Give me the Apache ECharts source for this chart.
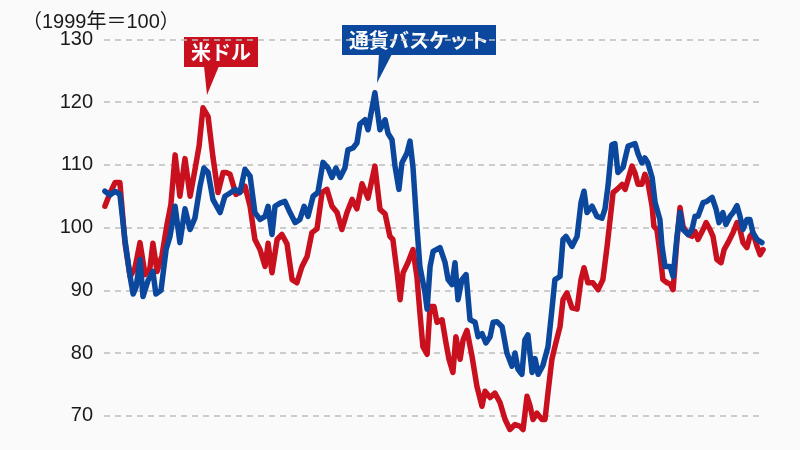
<!DOCTYPE html>
<html>
<head>
<meta charset="utf-8">
<script src="https://cdn.jsdelivr.net/npm/echarts@6/dist/echarts.min.js"></script>
<style>
html,body{margin:0;padding:0;background:#fafafa;}
#chart{width:800px;height:450px;}
</style>
</head>
<body>
<div id="chart"></div>
<script>
// Months since start of 1999 (index 1999 = 100)
const yTicks = [70, 80, 90, 100, 110, 120, 130];
const unitLabel = '（1999年＝100）';
const usdName = '米ドル';
const basketName = '通貨バスケット';

const usdMonths = [0.3,2,3.7,5.3,7,8.7,10.3,12,13.7,15.3,16.3,17.7,19.3,21,22.3,23.7,25.3,27,28.7,30.3,31.7,33,34.7,36.3,38,39.7,40.7,42,44,45.7,47,48.7,50.3,52,53.7,54.7,56,57.7,59.3,61,62.7,64.3,66,67.7,69.3,71,72.7,74.3,76,77.7,79.3,81,82.7,84.3,86,88,90.3,92,93.7,95.3,96.3,97.7,98.7,99.7,101.3,103,104.3,105.3,106.3,107.7,108.7,110,111,112.7,114,115,116.3,117.3,118.7,119.7,121,122.7,124.3,126,127,128.7,130.3,132,133.7,135.3,137,138.7,139.7,141,142,143,144.3,146,147,148,149.3,150.3,152,153,154.3,156,157.7,159,160,161.3,163,164.7,166.3,167.7,168.7,169.7,171,172.7,173.7,174.7,176,177,178,179.3,180.3,181.3,182.7,183.3,184.3,185.3,186.3,187.7,188.7,189.7,191,192,193,194.7,196,197,198,199.7,200.7,202,203,204.3,205.7,206.7,208,209.7,211,212,213,214.3,215.3,216.3,217.7,218.7,219.7];
const usdValues = [103.4,105.5,107.2,107.2,97.5,92.2,93.5,97.6,92.5,93.5,97.5,93,95.5,100.5,103.7,111.6,105,111,105,109.2,113,119.1,117.7,111.3,105.6,108.8,108.8,108.5,105.3,105.8,106.6,103.4,98.1,96.5,93.8,97.5,92.8,98.1,98.9,97.4,91.7,91.2,93.8,95.4,99.2,99.8,105.6,106.1,103.4,102.4,99.7,102.4,104.5,103,107,104.7,109.8,102.9,102.2,98.6,98.1,92.8,88.5,92.8,94.4,96.5,92.2,86.4,81,79.8,87.4,87.4,84.9,85.3,81.6,79,76.9,82.6,79,82.1,83.6,79.4,74.7,71.5,73.9,72.9,73.6,72.1,69.4,67.8,68.6,68.3,67.8,73.1,71.6,69.4,70.4,69.4,69.4,73.7,79,81,84.2,88.5,89.6,87.2,87,91.7,93.6,91.2,91.2,90.1,91.7,97,101.3,105.6,106.1,106.9,106.1,107.7,109.8,108.7,106.9,106.9,108.5,107.2,103.4,100.2,99.7,96,91.7,91.2,91,90.1,98.1,103.2,100.2,98.9,98.6,99.4,98.1,99.7,100.8,99.7,98.6,94.9,94.4,96.5,97.6,99.2,100.8,99.7,97.6,96.8,98.6,99.2,97,95.7,96.5];

const basketMonths = [0.3,2,3.7,5.3,7,8.7,9.7,10.7,12,13,14.7,16.3,17.3,19,20.7,22,23.7,25.3,27,28.7,30.3,32,33.3,34.7,36.3,38.7,40.3,42.3,43.7,45.3,47,48.7,50.3,52,53.7,54.7,56,57,58.7,60.3,62,63.7,65.3,66.7,68,69.7,71.3,73,74.7,76,77.3,78.7,80.3,81.3,83,84.3,85.3,87,88,90.3,92,93.7,94.7,96,97,98.3,99.3,101,102,103,104.3,105.3,107,107.7,108.7,109.7,112,113.7,114.7,116,117,118,119.3,120.7,122,123.7,124.7,126,127.3,128.7,129.7,131,132.7,134.3,136,137,138,139.3,140.3,141.3,142.7,143.7,144.7,146.3,148,149.3,150.3,152,153,154,156,157.7,159,160,161,162.7,164.3,166,167,168,169.3,170.3,171.3,173,174.7,177,178,179.3,180.3,181.3,182.7,183.7,185.3,186,187,188.7,189.7,191,192,193,194.7,196,197,198,199.7,201,202.7,204,205,206.3,207.3,208.7,209.7,211,212,213,214.3,215.3,216.3,217.7,219.3];
const basketValues = [105.8,105.2,105.8,105.3,98,92.2,89.4,90.5,94.9,89,91.6,93,89.4,90,96.5,98.6,103.4,97.6,103,99.7,101.5,106.6,109.5,108.8,104.5,102.4,105,105.6,106.1,105.6,109.3,108.2,102.4,101.3,101.8,103.4,98.9,103.4,103.9,104.2,102.4,100.8,101.3,103.4,101.8,105,105.6,110.4,109.5,108,109.5,108,109.5,112.4,112.7,113.5,116.5,117.2,115.6,121.5,115.6,117.2,115,114,109.8,106.1,110.3,111.9,113.8,109.6,100.2,93.8,89.6,87,93.8,96.2,96.8,94.4,91.7,90.9,94.4,88.5,91.7,92.5,85.3,84.9,82.6,83.1,81.6,82.6,84.9,85,84.2,80,77.9,80,77.4,76.6,82.1,82.9,76.9,79.1,76.6,78,81,86.9,91.7,92.2,98.1,98.6,97,98.6,104,105.8,102.4,103.4,101.8,101.5,103,106.6,113.2,113.4,108.8,109.6,113,113.4,111.8,110.3,111.1,110.3,108,104,101.3,97,93.8,93.8,92.2,98.6,102.4,99.7,98.9,99.7,101.8,101.8,104,104.2,104.8,103,100.8,102.4,100.5,101.8,102.4,103.5,101.8,99.7,101.3,101.3,99.2,98.1,97.6];

const RED = '#c8101e';
const BLUE = '#0b479c';
const zip = (xs, ys) => xs.map((x, i) => [x, ys[i]]);

const chart = echarts.init(document.getElementById('chart'), null, {renderer: 'canvas'});
chart.setOption({
  animation: false,
  backgroundColor: '#fafafa',
  grid: {left: 104, right: 36, top: 39.5, bottom: 34.3},
  xAxis: {type: 'value', min: 0, max: 220, show: false},
  yAxis: {
    type: 'value', min: yTicks[0], max: yTicks[yTicks.length - 1], interval: 10,
    axisLine: {show: false}, axisTick: {show: false},
    axisLabel: {color: '#1a1a1a', fontSize: 20, margin: 11, padding: [5, 0, 0, 0], fontFamily: "'Liberation Sans', Arial, sans-serif"},
    splitLine: {lineStyle: {color: '#bdbdbd', width: 1.5, type: [6, 5]}}
  },
  graphic: [
    {type: 'text', x: 22, y: 22, style: {text: unitLabel, fontSize: 20, fill: '#1a1a1a', verticalAlign: 'middle', fontFamily: "'Liberation Sans', 'Noto Sans CJK JP', sans-serif"}},
    {type: 'group', z: 100, children: [
      {type: 'rect', shape: {x: 184, y: 37, width: 74, height: 30}, style: {fill: RED}},
      {type: 'polygon', shape: {points: [[204, 66], [219, 66], [207, 95]]}, style: {fill: RED}},
      {type: 'text', x: 221, y: 52, style: {text: usdName, fill: '#fff', fontSize: 20, fontWeight: 'bold', align: 'center', verticalAlign: 'middle', fontFamily: "'Noto Sans CJK JP', sans-serif"}}
    ]},
    {type: 'group', z: 100, children: [
      {type: 'rect', shape: {x: 342, y: 25, width: 154, height: 30}, style: {fill: BLUE}},
      {type: 'polygon', shape: {points: [[379, 54], [392, 54], [377, 83]]}, style: {fill: BLUE}},
      {type: 'text', x: 419, y: 40, style: {text: basketName, fill: '#fff', fontSize: 20, fontWeight: 'bold', align: 'center', verticalAlign: 'middle', fontFamily: "'Noto Sans CJK JP', sans-serif"}}
    ]}
  ],
  series: [
    {name: usdName, type: 'line', data: zip(usdMonths, usdValues), showSymbol: false, symbol: 'none', clip: false,
     lineStyle: {color: RED, width: 5.5, join: 'round', cap: 'round'}, z: 2},
    {name: basketName, type: 'line', data: zip(basketMonths, basketValues), showSymbol: false, symbol: 'none', clip: false,
     lineStyle: {color: BLUE, width: 5.5, join: 'round', cap: 'round'}, z: 3}
  ]
});
</script>
</body>
</html>
